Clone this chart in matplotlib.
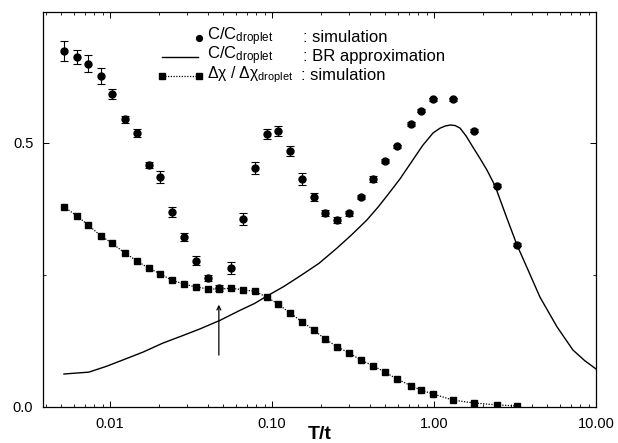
import numpy as np
import matplotlib
matplotlib.use("Agg")
import matplotlib.pyplot as plt
from matplotlib.ticker import FixedLocator, MultipleLocator, LogLocator, NullFormatter, FixedFormatter

plt.rcParams["font.family"] = ["Liberation Sans", "DejaVu Sans"]
plt.rcParams["mathtext.fontset"] = "custom"
plt.rcParams["mathtext.rm"] = "Liberation Sans"
plt.rcParams["mathtext.it"] = "Liberation Sans:italic"

# ---------------------------------------------------------------------------
# Data
# ---------------------------------------------------------------------------
T = [0.0052, 0.00625, 0.0073, 0.0088, 0.0103, 0.0123, 0.0146, 0.0173, 0.0205,
     0.0241, 0.0285, 0.034, 0.040, 0.047, 0.0558, 0.0662, 0.0785, 0.093, 0.109,
     0.129, 0.154, 0.181, 0.212, 0.253, 0.30, 0.354, 0.42, 0.50, 0.59, 0.725,
     0.83, 0.98, 1.31, 1.77, 2.45, 3.25]

c_sim = [0.674, 0.663, 0.650, 0.627, 0.593, 0.545, 0.519, 0.458, 0.436, 0.369,
         0.322, 0.277, 0.244, 0.225, 0.263, 0.356, 0.453, 0.517, 0.523, 0.485,
         0.432, 0.398, 0.367, 0.354, 0.367, 0.398, 0.432, 0.466, 0.494, 0.536,
         0.561, 0.583, 0.583, 0.523, 0.419, 0.307]

c_err = [0.019, 0.013, 0.016, 0.015, 0.009, 0.007, 0.007, 0.006, 0.011, 0.010,
         0.007, 0.009, 0.006, 0.006, 0.011, 0.012, 0.011, 0.010, 0.009, 0.010,
         0.012, 0.008, 0.006, 0.005, 0.005, 0.004, 0.006, 0.004, 0.003, 0.003,
         0.003, 0.003, 0.003, 0.003, 0.003, 0.003]

chi_sim = [0.379, 0.362, 0.345, 0.324, 0.310, 0.292, 0.277, 0.263, 0.252, 0.240,
           0.233, 0.227, 0.224, 0.223, 0.225, 0.222, 0.219, 0.208, 0.195, 0.178,
           0.161, 0.146, 0.129, 0.114, 0.102, 0.089, 0.078, 0.066, 0.053, 0.040,
           0.032, 0.025, 0.013, 0.0076, 0.004, 0.002]

br_T = [0.0052, 0.0074, 0.0095, 0.0120, 0.0160, 0.0212, 0.028, 0.036, 0.0477,
        0.0634, 0.078, 0.093, 0.118, 0.149, 0.195, 0.252, 0.31, 0.385, 0.45,
        0.513, 0.617, 0.741, 0.85, 0.987, 1.09, 1.17, 1.26, 1.35, 1.45, 1.58,
        1.74, 1.92, 2.12, 2.38, 2.8, 3.25, 3.8, 4.51, 5.74, 7.2, 8.5, 10.0]
br_C = [0.0625, 0.066, 0.077, 0.089, 0.104, 0.121, 0.135, 0.148, 0.164,
        0.183, 0.196, 0.210, 0.228, 0.248, 0.272, 0.301, 0.326, 0.354, 0.378,
        0.400, 0.432, 0.468, 0.495, 0.519, 0.528, 0.532, 0.534, 0.533, 0.528, 0.513,
        0.492, 0.471, 0.449, 0.419, 0.360, 0.307, 0.260, 0.208, 0.152, 0.108, 0.088, 0.072]

arrow_T = 0.047
arrow_from, arrow_to = 0.093, 0.199

# ---------------------------------------------------------------------------
# Figure
# ---------------------------------------------------------------------------
fig = plt.figure(figsize=(6.18, 4.43), dpi=100)
ax = fig.add_axes([43 / 618, 1 - 407 / 443, 553 / 618, 395 / 443])

ax.plot(br_T, br_C, color="black", lw=1.0)
ax.plot(T, chi_sim, color="black", ls=(0, (1, 1.2)), lw=0.9,
        marker="s", ms=4.5, mfc="black", mec="black")
ax.errorbar(T, c_sim, yerr=c_err, fmt="o", ms=5.0, color="black",
            ecolor="black", elinewidth=0.8, capsize=3.2, capthick=0.8)

ax.annotate("", xy=(arrow_T, arrow_to), xytext=(arrow_T, arrow_from),
            arrowprops=dict(arrowstyle="->", color="black", lw=0.9,
                            mutation_scale=7))

ax.set_xscale("log")
ax.set_xlim(0.00386, 10)
ax.set_ylim(0, 0.748)

ax.xaxis.set_major_locator(FixedLocator([0.01, 0.1, 1, 10]))
ax.xaxis.set_major_formatter(FixedFormatter(["0.01", "0.10", "1.00", "10.00"]))
ax.xaxis.set_minor_locator(LogLocator(base=10, subs=np.arange(2, 10), numticks=20))
ax.xaxis.set_minor_formatter(NullFormatter())
ax.yaxis.set_minor_locator(MultipleLocator(0.25))
ax.set_yticks([0.0, 0.5])
ax.set_yticklabels(["0.0", "0.5"])

ax.tick_params(which="both", direction="in", top=True, right=True, labelsize=10.5)
ax.tick_params(which="major", length=4, width=0.7, pad=7)
ax.tick_params(which="minor", length=2.2, width=0.6)
for s in ax.spines.values():
    s.set_linewidth(0.9)

ax.set_xlabel("T/t", fontsize=14, fontweight="bold")
ax.xaxis.set_label_coords(0.5, -0.048)

# legend, drawn by hand so the colons line up
def fx(px):
    return px / 618

def fy(py):
    return 1 - py / 443

fs = 11.3
fig.add_artist(plt.Line2D([fx(199)], [fy(38)], marker="o", ms=4.2, color="black", ls="none"))
fig.add_artist(plt.Line2D([fx(162), fx(198)], [fy(57), fy(57)], color="black", lw=1.0))
fig.add_artist(plt.Line2D([fx(162), fx(199)], [fy(76), fy(76)], color="black",
                          ls=(0, (1, 1.2)), lw=0.9, marker="s", ms=4, mfc="black"))
fig.text(fx(207), fy(37), r"C/C$_{\mathrm{droplet}}$", fontsize=fs + 0.7, va="center", ha="left")
fig.text(fx(207), fy(56), r"C/C$_{\mathrm{droplet}}$", fontsize=fs + 0.7, va="center", ha="left")
fig.text(fx(207), fy(75), "Δχ / Δχ$_{\\mathrm{droplet}}$", fontsize=fs, va="center", ha="left")
fig.text(fx(303), fy(38), ": simulation", fontsize=fs + 0.7, va="center", ha="left")
fig.text(fx(303), fy(57), ": BR approximation", fontsize=fs + 0.7, va="center", ha="left")
fig.text(fx(301), fy(76), ": simulation", fontsize=fs + 0.7, va="center", ha="left")

fig.savefig("out.png", dpi=100)
